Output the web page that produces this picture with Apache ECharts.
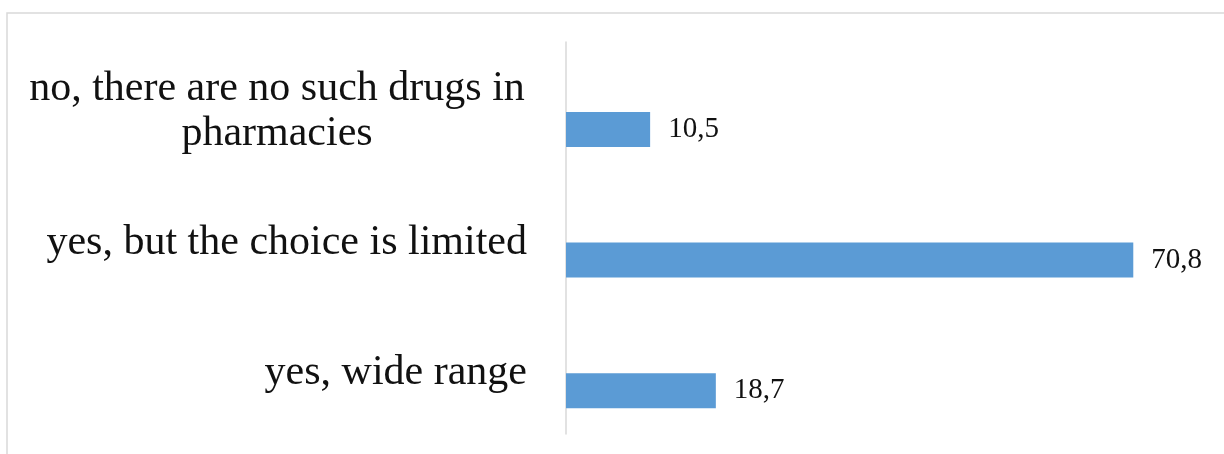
<!DOCTYPE html>
<html>
<head>
<meta charset="utf-8">
<script src="https://cdn.jsdelivr.net/npm/echarts@6/dist/echarts.min.js"></script>
<style>
  html, body { margin: 0; padding: 0; background: #ffffff; }
  #chart { width: 1224px; height: 454px; }
</style>
</head>
<body>
<div id="chart"></div>
<script>
// Survey answers, listed bottom to top along the category axis
const categories = [
  'yes, wide range',
  'yes, but the choice is limited',
  'no, there are no such drugs in\npharmacies'
];
// Share of respondents, %
const shares = [18.7, 70.8, 10.5];
// Empty companion series that reserves the upper slot in each band
const spacer = [null, null, null];

const serif = "'Liberation Serif', 'Times New Roman', serif";

const chart = echarts.init(document.getElementById('chart'));
chart.setOption({
  animation: false,
  backgroundColor: '#ffffff',
  graphic: [{
    type: 'rect',
    shape: { x: 7, y: 13, width: 1240, height: 470 },
    style: { fill: 'none', stroke: '#d9d9d9', lineWidth: 1.5 },
    silent: true
  }],
  grid: { left: 566, right: 17, top: 42, bottom: 20 },
  xAxis: {
    type: 'value',
    min: 0,
    max: 80,
    show: false
  },
  yAxis: {
    type: 'category',
    data: categories,
    axisLine: { show: true, lineStyle: { color: '#d9d9d9', width: 1.5 } },
    axisTick: { show: false },
    axisLabel: {
      margin: 39,
      fontFamily: serif,
      fontSize: 42,
      color: '#111111',
      lineHeight: 45,
      padding: [9, 0, 0, 0],
      formatter: function (v) {
        if (v.indexOf('\n') < 0) return v;
        return v.split('\n').map(s => '{c|' + s + '}').join('\n');
      },
      rich: {
        c: { width: 500, align: 'center', fontFamily: serif, fontSize: 42, lineHeight: 45, color: '#111111' }
      }
    }
  },
  series: [
    {
      type: 'bar',
      data: spacer,
      barWidth: 35,
      barGap: '26%',
      itemStyle: { color: '#5b9bd5' }
    },
    {
      type: 'bar',
      data: shares,
      barWidth: 35,
      barGap: '26%',
      itemStyle: { color: '#5b9bd5' },
      label: {
        show: true,
        position: 'right',
        distance: 18,
        fontFamily: serif,
        fontSize: 29,
        color: '#111111',
        formatter: p => String(p.value).replace('.', ',')
      }
    }
  ]
});
</script>
</body>
</html>
